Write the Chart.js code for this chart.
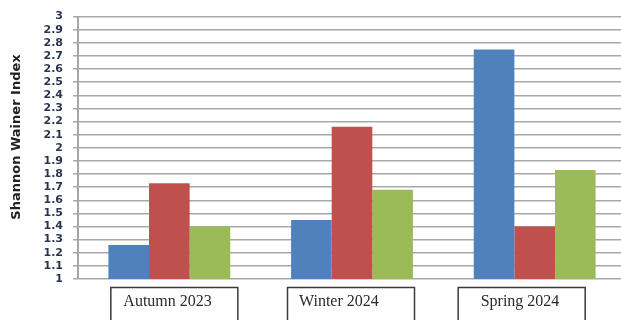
<!DOCTYPE html>
<html>
<head>
<meta charset="utf-8">
<script src="https://cdn.jsdelivr.net/npm/chart.js@4"></script>
<style>
  html, body { margin: 0; padding: 0; background: #fff; overflow: hidden; }
  #wrap { width: 621px; height: 320px; overflow: hidden; }
</style>
</head>
<body>
<div id="wrap"><canvas id="chart" width="626" height="320"></canvas></div>
<script>
const seasons = ['Autumn 2023', 'Winter 2024', 'Spring 2024'];
const series1 = [1.26, 1.45, 2.75];
const series2 = [1.73, 2.16, 1.40];
const series3 = [1.40, 1.68, 1.83];
const yTicks = [1, 1.1, 1.2, 1.3, 1.4, 1.5, 1.6, 1.7, 1.8, 1.9, 2, 2.1, 2.2, 2.3, 2.4, 2.5, 2.6, 2.7, 2.8, 2.9, 3];
const yTitle = 'Shannon Wainer Index';

// the boxed category labels sit a bit off the bar groups, like in the original
const boxShift = [-59, -65, -77];
const textShift = [-46, -53, -54];

const extraText = {
  id: 'extraText',
  afterDraw(chart) {
    const c = chart.ctx;
    const x = chart.scales.x;
    c.save();
    c.font = '16px "Liberation Serif", serif';
    c.textBaseline = 'alphabetic';
    seasons.forEach((s, i) => {
      const cx = x.getPixelForValue(i);
      c.strokeStyle = '#3a3a3a';
      c.lineWidth = 1.5;
      c.strokeRect(cx + boxShift[i] + 0.5, 287.5, 127, 45);
      c.fillStyle = '#2a2a2a';
      c.fillText(s, cx + textShift[i], 306);
    });
    // rotated y title
    c.translate(17, 137);
    c.rotate(-Math.PI / 2);
    c.font = 'bold 13px "DejaVu Sans", sans-serif';
    c.textAlign = 'center';
    c.textBaseline = 'middle';
    c.fillStyle = '#222';
    c.fillText(yTitle, 0, 0);
    c.restore();
  }
};

new Chart(document.getElementById('chart').getContext('2d'), {
  type: 'bar',
  data: {
    labels: seasons,
    datasets: [
      { label: 'Series 1', data: series1, backgroundColor: '#4F81BD' },
      { label: 'Series 2', data: series2, backgroundColor: '#C0504D' },
      { label: 'Series 3', data: series3, backgroundColor: '#9BBB59' }
    ]
  },
  options: {
    responsive: false,
    animation: false,
    layout: { padding: { top: 9, right: 0, left: 0, bottom: 0 } },
    datasets: {
      bar: { categoryPercentage: 0.667, barPercentage: 1.0 }
    },
    plugins: {
      legend: { display: false },
      tooltip: { enabled: false }
    },
    scales: {
      x: {
        ticks: { display: false },
        grid: { display: false },
        border: { display: false },
        afterFit: (scale) => { scale.height = 41; }
      },
      y: {
        min: 1,
        max: 3,
        afterBuildTicks: (scale) => {
          scale.ticks = yTicks.map(v => ({ value: v }));
        },
        ticks: {
          autoSkip: false,
          color: '#2b3550',
          font: { family: '"DejaVu Sans", sans-serif', size: 11, weight: 'bold' },
          padding: 10,
          callback: (v) => String(Math.round(v * 10) / 10)
        },
        grid: {
          color: '#a8a8a8',
          lineWidth: 1.5,
          tickLength: 5,
          drawTicks: true
        },
        border: { color: '#a6a6a6', width: 2 },
        afterFit: (scale) => { scale.width = 78; }
      }
    }
  },
  plugins: [extraText]
});
</script>
</body>
</html>
